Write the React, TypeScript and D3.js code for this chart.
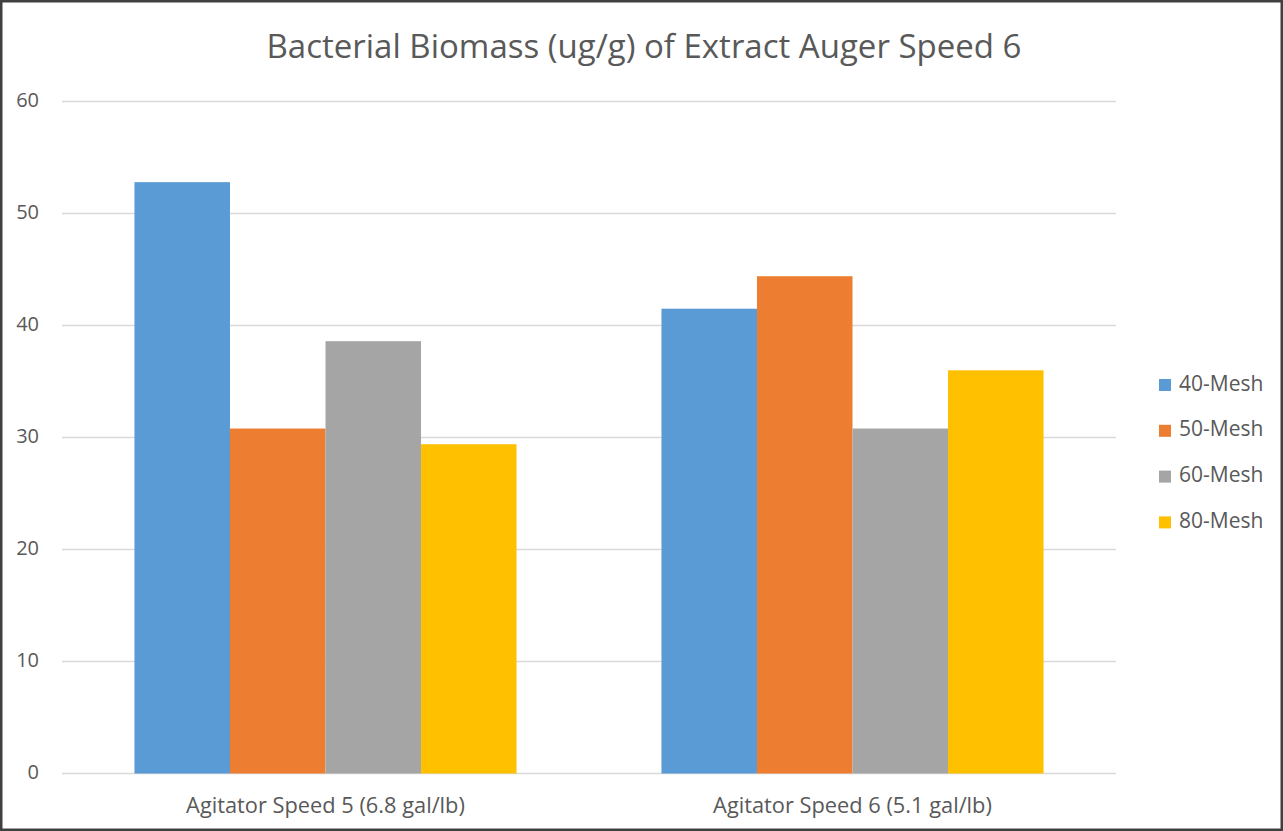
import React, { useEffect } from "react";
import * as d3 from "d3";

const categories = ["Agitator Speed 5 (6.8 gal/lb)", "Agitator Speed 6 (5.1 gal/lb)"];
const seriesNames = ["40-Mesh", "50-Mesh", "60-Mesh", "80-Mesh"];
const mesh40 = [52.8, 41.5];
const mesh50 = [30.8, 44.4];
const mesh60 = [38.6, 30.8];
const mesh80 = [29.4, 36.0];
const yTicks = [0, 10, 20, 30, 40, 50, 60];
const title = "Bacterial Biomass (ug/g) of Extract Auger Speed 6";

const colors = ["#5B9BD5", "#ED7D31", "#A5A5A5", "#FFC000"];
const seriesValues = [mesh40, mesh50, mesh60, mesh80];

const W = 1283;
const H = 831;
const FONT = "'Open Sans', sans-serif";
const TEXT = "#595959";

export default function App() {
  useEffect(() => {
    document.body.style.margin = "0";
  }, []);

  const y = d3.scaleLinear().domain([0, 60]).range([773.5, 101.5]);
  const x0 = d3
    .scaleBand<string>()
    .domain(categories)
    .range([62, 1116])
    .paddingInner(0.275)
    .paddingOuter(0.1375);
  const x1 = d3
    .scaleBand<string>()
    .domain(seriesNames)
    .range([0, x0.bandwidth()]);

  return (
    <svg width={W} height={H} style={{ display: "block" }}>
      <rect x={0} y={0} width={W} height={H} fill="#ffffff" />
      {yTicks.map((t) => (
        <g key={t}>
          <line x1={62} x2={1116} y1={y(t)} y2={y(t)} stroke="#d9d9d9" strokeWidth={1.5} />
          <text
            x={39}
            y={y(t)}
            textAnchor="end"
            dominantBaseline="middle"
            fontFamily={FONT}
            fontSize={20}
            fill={TEXT}
          >
            {t}
          </text>
        </g>
      ))}
      {categories.map((c, ci) => (
        <g key={c}>
          {seriesNames.map((s, si) => {
            const v = seriesValues[si][ci];
            const bx = (x0(c) as number) + (x1(s) as number);
            return (
              <rect
                key={s}
                x={bx}
                y={y(v)}
                width={x1.bandwidth()}
                height={y(0) - y(v)}
                fill={colors[si]}
              />
            );
          })}
          <text
            x={(x0(c) as number) + x0.bandwidth() / 2}
            y={813}
            textAnchor="middle"
            fontFamily={FONT}
            fontSize={21.8}
            fill={TEXT}
          >
            {c}
          </text>
        </g>
      ))}
      <text
        x={644}
        y={58}
        textAnchor="middle"
        fontFamily={FONT}
        fontSize={33}
        fill={TEXT}
      >
        {title}
      </text>
      {seriesNames.map((s, si) => {
        const cy = 385 + si * 45.8;
        return (
          <g key={s}>
            <rect x={1159} y={cy - 6} width={12} height={12} fill={colors[si]} />
            <text
              x={1179}
              y={cy}
              dominantBaseline="middle"
              fontFamily={FONT}
              fontSize={21}
              fill={TEXT}
            >
              {s}
            </text>
          </g>
        );
      })}
      <rect x={1.25} y={1.25} width={W - 2.5} height={H - 2.5} fill="none" stroke="#404040" strokeWidth={2.5} />
    </svg>
  );
}
